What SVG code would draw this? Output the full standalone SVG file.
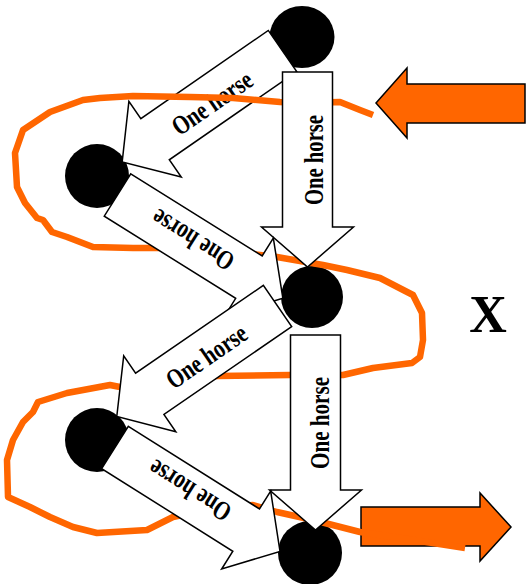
<svg xmlns="http://www.w3.org/2000/svg" width="526" height="584" viewBox="0 0 526 584">
<defs>
<style>
.node{fill:#000}
.blk{fill:#fff;stroke:#000;stroke-width:1.5;stroke-linejoin:miter}
.lbl{font-family:"Liberation Serif","Times New Roman",serif;font-weight:bold;font-size:27px;fill:#000;text-anchor:middle}
.big{font-family:"Liberation Serif","Times New Roman",serif;font-weight:bold;font-size:52px;fill:#000;text-anchor:middle}
.org{fill:#FF6600;stroke:#000;stroke-width:1.5}
.route{fill:none;stroke:#FF6600;stroke-width:6.5;stroke-linecap:butt;stroke-linejoin:round}
</style>
<path id="blk" d="M0,-25 L155,-25 L155,-46 L195,0 L155,46 L155,25 L0,25 Z"/>
</defs>
<rect width="526" height="584" fill="#fff"/>
<g id="nodes">
<g id="n-top"><ellipse class="node" cx="302" cy="37" rx="32.5" ry="31"/></g>
<g id="n-left1"><circle class="node" cx="97" cy="176" r="32"/></g>
<g id="n-mid"><circle class="node" cx="312" cy="297" r="31"/></g>
<g id="n-left2"><circle class="node" cx="97" cy="440" r="32"/></g>
<g id="n-bottom"><circle class="node" cx="310" cy="553" r="32"/></g>
</g>
<g id="connectors">
<g id="in-arrow"><path class="org" d="M525,84 L407,84 L407,68 L376,103 L407,138 L407,123 L525,123 Z"/></g>
<g id="out-arrow"><path class="org" d="M361,507 L480,507 L480,493 L511,527 L480,561 L480,546 L361,546 Z"/></g>
<g id="e1">
<use href="#blk" class="blk" transform="translate(282.5,51) rotate(145.3)"/>
<text class="lbl" transform="translate(213.5,105) rotate(-34.7)" y="6.5" textLength="92" lengthAdjust="spacingAndGlyphs">One horse</text>
</g>
<path id="route" class="route" d="M373,115 L360,110 L340,102 L300,103 L280,102 L233,98 L190,97 L133,96 L100,98 L83,100 L50,112 L23,130 L15,153 L17,187 L25,203 L37,218 L43,220 L52,232 L67,237 L93,247 L133,248 L160,248 L220,250 L277,257 L323,265 L347,270 L380,278 L413,295 L422,313 L423,340 L420,357 L412,363 L373,368 L343,375 L290,375 L217,376 L150,382 L120,387 L110,385 L67,393 L38,402 L33,412 L23,422 L13,440 L7,460 L8,497 L30,507 L50,517 L73,527 L97,533 L147,530 L173,517 L215,508 L253,505 L277,512 L313,520 L360,532 L420,541 L465,548"/>
<g id="e2">
<use href="#blk" class="blk" transform="translate(307.5,72) rotate(90)"/>
<text class="lbl" transform="translate(316.5,160) rotate(-90)" y="6.5" textLength="90" lengthAdjust="spacingAndGlyphs">One horse</text>
</g>
<g id="e3">
<use href="#blk" class="blk" transform="translate(117.5,195) rotate(32)"/>
<text class="lbl" transform="translate(194,238) rotate(212)" y="6.5" textLength="92" lengthAdjust="spacingAndGlyphs">One horse</text>
</g>
<g id="e4">
<use href="#blk" class="blk" transform="translate(277.5,306) rotate(145.5)"/>
<text class="lbl" transform="translate(208,358.5) rotate(-34.5)" y="6.5" textLength="92" lengthAdjust="spacingAndGlyphs">One horse</text>
</g>
<g id="e5">
<use href="#blk" class="blk" transform="translate(315.5,335) rotate(90)"/>
<text class="lbl" transform="translate(322,423) rotate(-90)" y="6.5" textLength="92" lengthAdjust="spacingAndGlyphs">One horse</text>
</g>
<g id="e6">
<use href="#blk" class="blk" transform="translate(115,447.5) rotate(32.2)"/>
<text class="lbl" transform="translate(191,488.5) rotate(212.2)" y="6.5" textLength="92" lengthAdjust="spacingAndGlyphs">One horse</text>
</g>
</g>
<text class="big" x="488" y="332">X</text>
</svg>
